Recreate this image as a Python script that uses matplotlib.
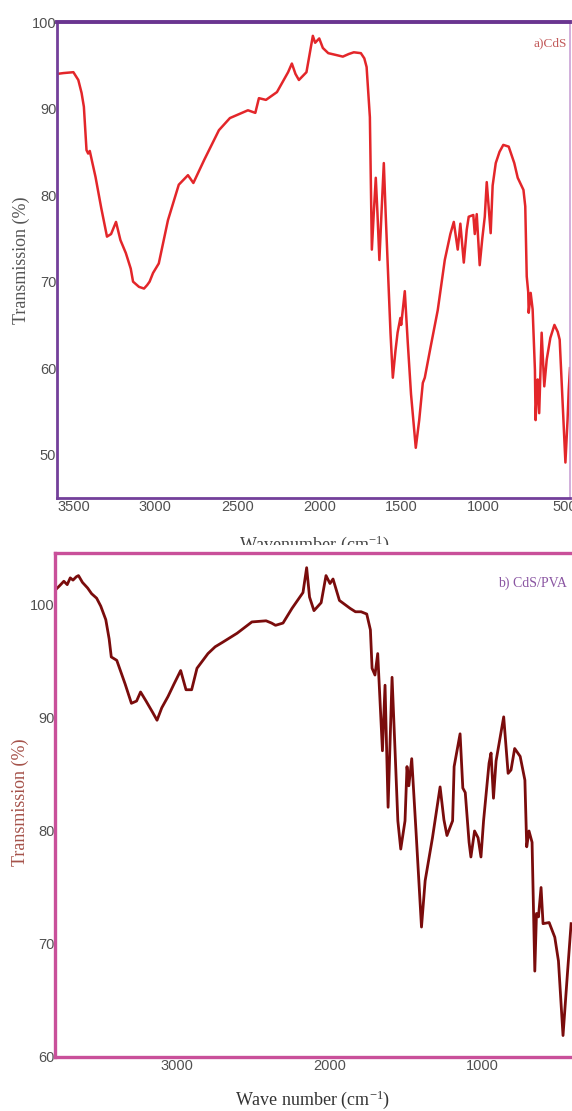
import matplotlib
matplotlib.use("Agg")
import matplotlib.pyplot as plt
from matplotlib.transforms import Bbox, TransformedBbox

# ---------------- data ----------------
top_wn = [3600, 3560, 3500, 3470, 3450, 3436, 3420, 3410, 3400, 3385, 3365, 3330,
          3295, 3270, 3240, 3213, 3180, 3150, 3136, 3100, 3069, 3050, 3035, 3014,
          2979, 2923, 2857, 2801, 2768, 2701, 2612, 2545, 2435, 2390, 2368, 2325,
          2258, 2190, 2167, 2145, 2124, 2078, 2039, 2025, 2000, 1978, 1945, 1900,
          1856, 1820, 1789, 1746, 1725, 1711, 1691, 1679, 1667, 1655, 1645, 1633,
          1620, 1606, 1595, 1578, 1565, 1551, 1535, 1522, 1505, 1500, 1478, 1460,
          1440, 1411, 1390, 1368, 1356, 1320, 1277, 1234, 1200, 1179, 1155, 1139,
          1118, 1100, 1088, 1060, 1051, 1039, 1021, 1005, 990, 978, 954, 942,
          923, 900, 877, 844, 810, 789, 754, 743, 734, 725, 722, 710, 698, 684,
          680, 672, 667, 658, 643, 627, 612, 590, 565, 545, 533, 515, 498, 485,
          478, 470]
top_T = [94.0, 94.1, 94.2, 93.3, 91.8, 90.2, 85.2, 84.8, 85.1, 83.8, 82.1, 78.5,
         75.2, 75.5, 76.9, 74.8, 73.3, 71.5, 70.0, 69.4, 69.2, 69.6, 70.0, 71.0,
         72.1, 77.1, 81.2, 82.3, 81.4, 84.1, 87.5, 88.9, 89.8, 89.5, 91.2, 91.0,
         91.9, 94.2, 95.2, 94.0, 93.3, 94.2, 98.4, 97.6, 98.1, 97.0, 96.4, 96.2,
         96.0, 96.3, 96.5, 96.4, 95.8, 94.8, 89.0, 73.7, 78.0, 82.0, 78.0, 72.5,
         78.0, 83.7, 78.0, 70.0, 64.0, 58.9, 62.0, 64.1, 65.8, 65.0, 68.9, 63.0,
         57.0, 50.8, 54.0, 58.3, 58.9, 62.5, 66.7, 72.5, 75.5, 76.9, 73.7, 76.7,
         72.2, 76.0, 77.5, 77.7, 75.5, 77.8, 71.9, 75.0, 77.5, 81.5, 75.6, 81.1,
         83.7, 85.0, 85.8, 85.6, 83.7, 82.0, 80.6, 78.7, 70.6, 68.8, 66.4, 68.7,
         66.8, 59.8, 54.0, 57.5, 58.7, 54.8, 64.1, 57.9, 61.0, 63.5, 65.0, 64.2,
         63.3, 56.0, 49.1, 54.0, 57.4, 60.0]

bot_wn = [3800, 3770, 3742, 3720, 3700, 3682, 3660, 3646, 3620, 3586, 3560, 3527,
          3500, 3467, 3445, 3431, 3395, 3340, 3299, 3265, 3239, 3203, 3160, 3131,
          3100, 3059, 3020, 2976, 2941, 2904, 2869, 2797, 2750, 2701, 2606, 2509,
          2416, 2380, 2354, 2305, 2246, 2174, 2150, 2131, 2102, 2055, 2023, 1997,
          1977, 1935, 1865, 1830, 1793, 1756, 1732, 1721, 1702, 1684, 1653, 1636,
          1616, 1590, 1570, 1552, 1533, 1505, 1492, 1480, 1461, 1433, 1397, 1373,
          1325, 1275, 1250, 1230, 1193, 1183, 1144, 1126, 1110, 1085, 1073, 1049,
          1026, 1007, 990, 954, 941, 925, 908, 858, 829, 810, 786, 750, 719, 707,
          692, 672, 654, 643, 630, 613, 600, 560, 523, 499, 469, 440, 416]
bot_T = [101.3, 101.7, 102.1, 101.8, 102.4, 102.2, 102.5, 102.6, 102.0, 101.5, 101.0, 100.6,
         99.9, 98.7, 97.0, 95.4, 95.1, 93.0, 91.3, 91.5, 92.3, 91.5, 90.5, 89.8,
         90.9, 91.9, 93.0, 94.2, 92.5, 92.5, 94.4, 95.7, 96.3, 96.7, 97.5, 98.5,
         98.6, 98.4, 98.2, 98.4, 99.7, 101.1, 103.3, 100.7, 99.5, 100.2, 102.6, 101.9,
         102.3, 100.4, 99.7, 99.4, 99.4, 99.2, 97.8, 94.4, 93.8, 95.7, 87.1, 92.9,
         82.1, 93.6, 87.0, 80.9, 78.4, 80.9, 85.7, 84.0, 86.4, 80.0, 71.5, 75.6,
         79.4, 83.9, 81.0, 79.6, 80.9, 85.7, 88.6, 83.8, 83.4, 79.0, 77.7, 80.0,
         79.4, 77.7, 80.9, 86.0, 86.9, 82.9, 86.2, 90.1, 85.1, 85.4, 87.3, 86.6, 84.5, 78.6,
         80.0, 79.0, 67.6, 72.7, 72.4, 75.0, 71.8, 71.9, 70.6, 68.5, 61.9, 67.4, 71.8]

top_xticks = [3500, 3000, 2500, 2000, 1500, 1000, 500]
top_yticks = [50, 60, 70, 80, 90, 100]
bot_xticks = [3000, 2000, 1000]
bot_yticks = [60, 70, 80, 90, 100]

# ---------------- figure ----------------
plt.rcParams['mathtext.default'] = 'regular'
W, H = 572, 1111
fig = plt.figure(figsize=(W / 100, H / 100), dpi=100)
fig.patch.set_facecolor('white')


def fx(px):
    return px / W


def fy(py):
    return 1 - py / H


tick_font = dict(family=['Liberation Sans', 'DejaVu Sans'], size=10.5, color='#505050')
serif = ['Liberation Serif', 'DejaVu Serif']

# ---- top panel ----
ax1 = fig.add_axes([fx(57), fy(498), fx(570) - fx(57), fy(22) - fy(498)])
ax1.plot(top_wn, top_T, color='#e3262a', lw=1.8)
ax1.set_xlim(3600, 470)
ax1.set_ylim(45, 100)
ax1.set_xticks(top_xticks)
ax1.set_yticks(top_yticks)
pc = '#73409a'
ax1.spines['top'].set_color('#6a3590')
ax1.spines['top'].set_linewidth(2.8)
ax1.spines['left'].set_color(pc)
ax1.spines['left'].set_linewidth(2.0)
ax1.spines['bottom'].set_color(pc)
ax1.spines['bottom'].set_linewidth(2.0)
ax1.spines['right'].set_color('#c9a2d6')
ax1.spines['right'].set_linewidth(1.2)

# ---- bottom panel ----
ax2 = fig.add_axes([fx(55), fy(1057), fx(574) - fx(55), fy(553) - fy(1057)])
ax2.plot(bot_wn, bot_T, color='#7a0c0c', lw=2.0)
ax2.set_xlim(3800, 397)
ax2.set_ylim(60, 104.6)
ax2.set_xticks(bot_xticks)
ax2.set_yticks(bot_yticks)
for s in ax2.spines.values():
    s.set_color('#c9509a')
    s.set_linewidth(2.4)

for ax in (ax1, ax2):
    ax.tick_params(length=0, pad=1.5)
    for lab in ax.get_xticklabels() + ax.get_yticklabels():
        lab.set_fontfamily(tick_font['family'])
        lab.set_fontsize(tick_font['size'])
        lab.set_color(tick_font['color'])
    ax.tick_params(axis='y', pad=0.5)

# ---- texts ----
fig.text(fx(567), fy(43), 'a)CdS', ha='right', va='center',
         family=serif, size=9.5, color='#c25a5a')
fig.text(fx(567), fy(583), 'b) CdS/PVA', ha='right', va='center',
         family=serif, size=10, color='#8a55a2')

fig.text(fx(21), fy(260), 'Transmission (%)', rotation=90, ha='center', va='center',
         family=serif, size=13, color='#555555')
fig.text(fx(20), fy(802), 'Transmission (%)', rotation=90, ha='center', va='center',
         family=serif, size=13, color='#a5524a')

t_top = fig.text(fx(314), fy(550), 'Wavenumber (cm$^{-1}$)', ha='center', va='baseline',
                 family=serif, size=13, color='#444444')
clip = TransformedBbox(Bbox([[0, fy(545)], [1, 1]]), fig.transFigure)
t_top.set_clip_box(clip)
t_top.set_clip_on(True)

fig.text(fx(313), fy(1105), 'Wave number (cm$^{-1}$)', ha='center', va='baseline',
         family=serif, size=13, color='#333333')

fig.savefig('out.png', dpi=100)
